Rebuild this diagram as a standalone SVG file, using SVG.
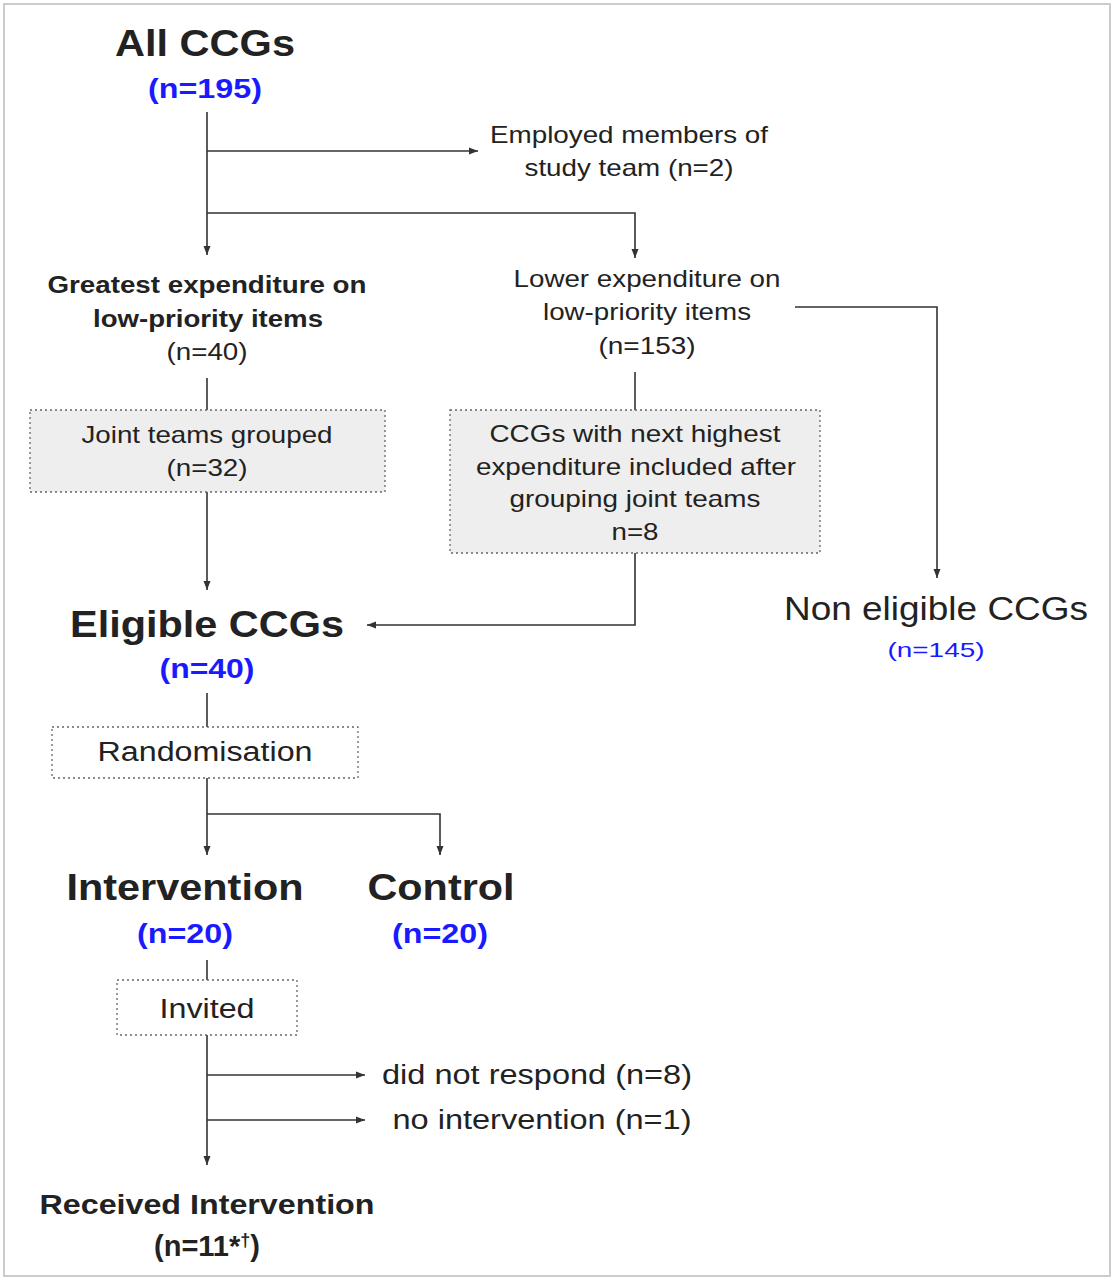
<svg xmlns="http://www.w3.org/2000/svg" width="1114" height="1280" viewBox="0 0 1114 1280">
<style>
text{font-family:"Liberation Sans",Arial,sans-serif;fill:#222;text-anchor:middle}
.b{font-weight:bold}
.blue{fill:#1a1aff}
.c{fill:none;stroke:#333;stroke-width:1.6}
.box{fill:#fff;stroke:#666;stroke-width:1.3;stroke-dasharray:2 3}
.g{fill:#eee}
</style>
<defs><marker id="a" markerWidth="10" markerHeight="10" refX="9" refY="5" orient="auto" markerUnits="userSpaceOnUse"><path d="M0,1.5 L9,5 L0,8.5z" fill="#333"/></marker></defs>
<rect x="4" y="4" width="1106" height="1272" fill="#fff" stroke="#ccc" stroke-width="2"/>
<g id="connectors">
<path class="c" d="M207,112 V255" marker-end="url(#a)"/>
<path class="c" d="M207,151 H478" marker-end="url(#a)"/>
<path class="c" d="M207,213 H635 V258" marker-end="url(#a)"/>
<path class="c" d="M795,307 H937 V578" marker-end="url(#a)"/>
<path class="c" d="M207,378 V410"/>
<path class="c" d="M207,492 V590" marker-end="url(#a)"/>
<path class="c" d="M635,372 V410"/>
<path class="c" d="M635,553 V625 H367" marker-end="url(#a)"/>
<path class="c" d="M207,693 V727"/>
<path class="c" d="M207,778 V855" marker-end="url(#a)"/>
<path class="c" d="M207,814 H440 V855" marker-end="url(#a)"/>
<path class="c" d="M207,960 V980"/>
<path class="c" d="M207,1035 V1165" marker-end="url(#a)"/>
<path class="c" d="M207,1075 H365" marker-end="url(#a)"/>
<path class="c" d="M207,1120 H365" marker-end="url(#a)"/>
</g>
<g id="all"><text x="205" y="56" class="b" font-size="36" textLength="180" lengthAdjust="spacingAndGlyphs">All CCGs</text><text x="205" y="98" class="b blue" font-size="27" textLength="114" lengthAdjust="spacingAndGlyphs">(n=195)</text></g>
<g id="employed"><text x="629" y="143" font-size="24" textLength="278" lengthAdjust="spacingAndGlyphs">Employed members of</text><text x="629" y="176" font-size="24" textLength="209" lengthAdjust="spacingAndGlyphs">study team (n=2)</text></g>
<g id="greatest"><text x="207" y="293" class="b" font-size="23" textLength="319" lengthAdjust="spacingAndGlyphs">Greatest expenditure on</text><text x="208" y="327" class="b" font-size="23" textLength="230" lengthAdjust="spacingAndGlyphs">low-priority items</text><text x="207" y="360" font-size="23" textLength="81" lengthAdjust="spacingAndGlyphs">(n=40)</text></g>
<g id="lower"><text x="647" y="287" font-size="24" textLength="267" lengthAdjust="spacingAndGlyphs">Lower expenditure on</text><text x="647" y="320" font-size="24" textLength="208" lengthAdjust="spacingAndGlyphs">low-priority items</text><text x="647" y="354" font-size="24" textLength="97" lengthAdjust="spacingAndGlyphs">(n=153)</text></g>
<g id="joint"><rect class="box g" x="30" y="410" width="355" height="82"/><text x="207" y="443" font-size="24" textLength="251" lengthAdjust="spacingAndGlyphs">Joint teams grouped</text><text x="207" y="476" font-size="24" textLength="81" lengthAdjust="spacingAndGlyphs">(n=32)</text></g>
<g id="next"><rect class="box g" x="450" y="410" width="370" height="143"/><text x="635" y="442" font-size="24" textLength="291" lengthAdjust="spacingAndGlyphs">CCGs with next highest</text><text x="636" y="475" font-size="24" textLength="320" lengthAdjust="spacingAndGlyphs">expenditure included after</text><text x="635" y="507" font-size="24" textLength="251" lengthAdjust="spacingAndGlyphs">grouping joint teams</text><text x="635" y="540" font-size="24" textLength="47" lengthAdjust="spacingAndGlyphs">n=8</text></g>
<g id="eligible"><text x="207" y="637" class="b" font-size="37" textLength="274" lengthAdjust="spacingAndGlyphs">Eligible CCGs</text><text x="207" y="678" class="b blue" font-size="27" textLength="95" lengthAdjust="spacingAndGlyphs">(n=40)</text></g>
<g id="noneligible"><text x="936" y="620" font-size="33" textLength="304" lengthAdjust="spacingAndGlyphs">Non eligible CCGs</text><text x="936" y="657" class="blue" font-size="21" textLength="97" lengthAdjust="spacingAndGlyphs">(n=145)</text></g>
<g id="random"><rect class="box" x="52" y="727" width="306" height="51"/><text x="205" y="761" font-size="27" textLength="215" lengthAdjust="spacingAndGlyphs">Randomisation</text></g>
<g id="intervention"><text x="185" y="900" class="b" font-size="37" textLength="237" lengthAdjust="spacingAndGlyphs">Intervention</text><text x="185" y="943" class="b blue" font-size="27" textLength="96" lengthAdjust="spacingAndGlyphs">(n=20)</text></g>
<g id="control"><text x="441" y="900" class="b" font-size="37" textLength="147" lengthAdjust="spacingAndGlyphs">Control</text><text x="440" y="943" class="b blue" font-size="27" textLength="96" lengthAdjust="spacingAndGlyphs">(n=20)</text></g>
<g id="invited"><rect class="box" x="117" y="980" width="180" height="55"/><text x="207" y="1018" font-size="27" textLength="95" lengthAdjust="spacingAndGlyphs">Invited</text></g>
<g id="noresp"><text x="537" y="1084" font-size="27" textLength="310" lengthAdjust="spacingAndGlyphs">did not respond (n=8)</text></g>
<g id="noint"><text x="542" y="1129" font-size="27" textLength="299" lengthAdjust="spacingAndGlyphs">no intervention (n=1)</text></g>
<g id="received"><text x="207" y="1214" class="b" font-size="27" textLength="335" lengthAdjust="spacingAndGlyphs">Received Intervention</text><text x="207" y="1256" class="b" font-size="29">(n=11*<tspan font-size="18" dy="-10">†</tspan><tspan dy="10">)</tspan></text></g>
</svg>
